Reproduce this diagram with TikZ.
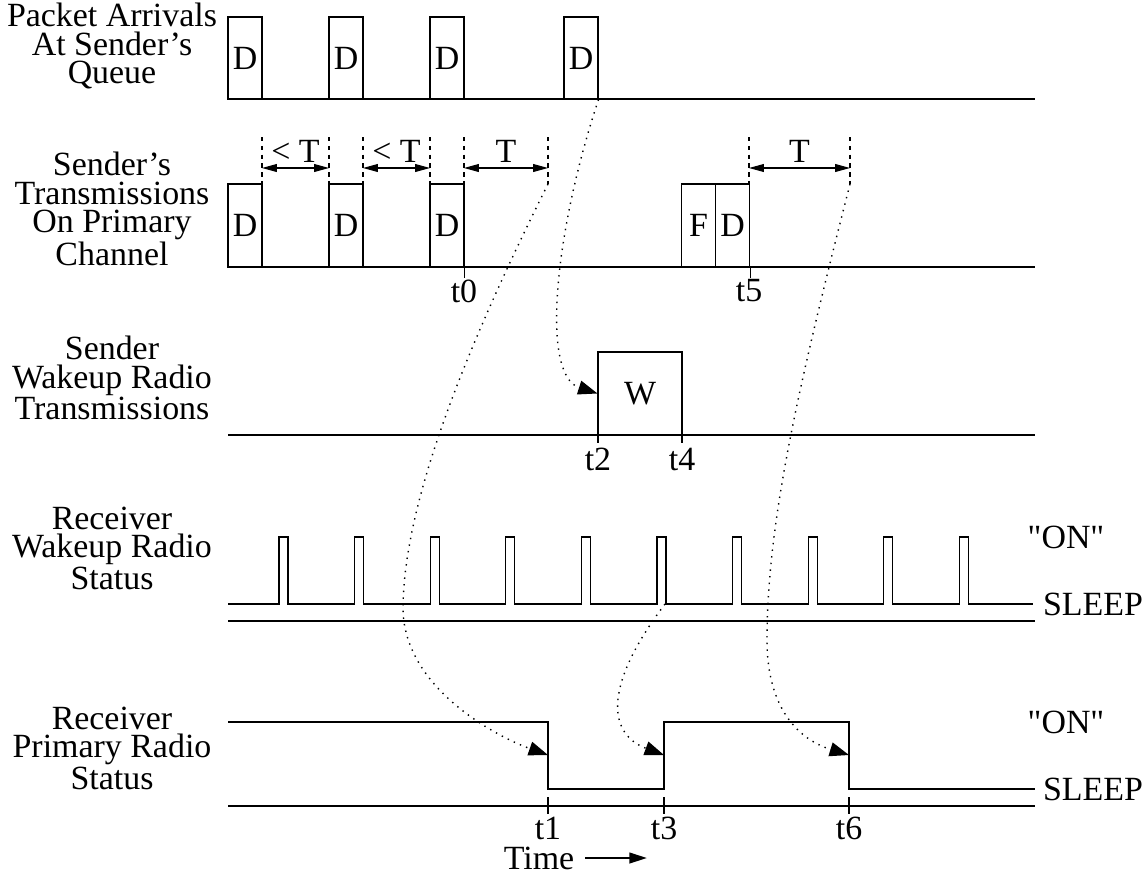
\documentclass[tikz,border=0pt]{standalone}
\usepackage{fontspec}
\setmainfont{Liberation Serif}
\usepackage{tikz}
\usetikzlibrary{arrows.meta}
\tikzstyle{every node}=[font=\fontsize{19.3}{16.2}\selectfont, inner sep=1pt]

\begin{document}
\begin{tikzpicture}[x=0.02cm, y=-0.02cm, line width=0.6pt,
        pkt/.style={draw, inner sep=0pt, minimum width=0.68cm, minimum height=1.66cm},
        rowlabel/.style={align=center},
        guide/.style={dash pattern=on 2.5pt off 2.5pt},
        gap/.style={{Triangle[length=8.5pt,width=4.5pt]}-{Triangle[length=8.5pt,width=4.5pt]}},
        cause/.style={line width=0.8pt, dash pattern=on 0.8pt off 3pt, -{Triangle[length=11pt,width=8pt]}}]
                \useasboundingbox (0,0) rectangle (1148,879);

                \node[rowlabel] (arrq) at (112,46) {Packet Arrivals\\At Sender's\\Queue};
                \node[rowlabel] (sendtx) at (112,209) {Sender's\\Transmissions\\On Primary\\Channel};
                \node[rowlabel] (sendwk) at (112,378) {Sender\\Wakeup Radio\\Transmissions};
                \node[rowlabel] (recvwk) at (112,548) {Receiver\\Wakeup Radio\\Status};
                \node[rowlabel] (recvpri) at (112,748) {Receiver\\Primary Radio\\Status};

                \draw (228,99) -- (1035,99);
                \node[pkt, minimum height=1.64cm] (q1) at (245,58) {D};
                \node[pkt, minimum height=1.64cm] (q2) at (346,58) {D};
                \node[pkt, minimum height=1.64cm] (q3) at (447,58) {D};
                \node[pkt, minimum height=1.64cm] (q4) at (581,58) {D};

                \draw (228,267) -- (1035,267);
                \node[pkt] (s1) at (245,225.5) {D};
                \node[pkt] (s2) at (346,225.5) {D};
                \node[pkt] (s3) at (447,225.5) {D};
                \node[pkt] (f1) at (698.5,225.5) {F};
                \node[pkt] (s4) at (732.5,225.5) {D};
                \foreach \x in {262,329,363,430,464,548,749,850}
                        \draw[guide] (\x,137) -- (\x,184);
                \coordinate (e3) at (548,184);
                \coordinate (e6) at (850,184);
                \draw[gap] (262,168) -- node[above=2pt] (lt1) {< T} (329,168);
                \draw[gap] (363,168) -- node[above=2pt] (lt2) {< T} (430,168);
                \draw[gap] (464,168) -- node[above=2pt] (tt1) {T} (548,168);
                \draw[gap] (749,168) -- node[above=2pt] (tt2) {T} (850,168);
                \draw (s3.south east) -- ++(0,10);
                \draw (s4.south east) -- ++(0,10);
                \node (t0) at (464,291) {t0};
                \node (t5) at (749,291) {t5};

                \draw (228,435) -- (1035,435);
                \node[pkt, minimum width=1.68cm] (w) at (640,393.5) {W};
                \draw (598,428) -- (598,443);
                \draw (682,428) -- (682,443);
                \node (t2) at (598,459) {t2};
                \node (t4) at (682,459) {t4};

                \draw (228,604) \foreach \i in {0,...,9} { -- ({279+75.6*\i},604) -- ++(0,-67) -- ++(9,0) -- ++(0,67) } -- (1033,604);
                \draw (228,621) -- (1035,621);
                \coordinate (w6) at (665,604);
                \node (on1) at (1066,537) {\textquotedbl ON\textquotedbl};
                \node (sl1) at (1093,604) {SLEEP};

                \draw (228,722) -- (548,722) -- (548,789) -- (664,789) -- (664,722) -- (849,722) -- (849,789) -- (1035,789);
                \draw[line width=1.2pt] (1017,789) -- (1035,789);
                \draw (228,806) -- (1035,806);
                \foreach \x in {548,664,849}
                        \draw (\x,797) -- (\x,814);
                \coordinate (r1) at (548,755);
                \coordinate (r3) at (664,755);
                \coordinate (r6) at (849,755);
                \node (on2) at (1066,722) {\textquotedbl ON\textquotedbl};
                \node (sl2) at (1093,789) {SLEEP};
                \node (t1) at (548,828) {t1};
                \node (t3) at (664,828) {t3};
                \node (t6) at (849,828) {t6};

                \node (time) at (539,858) {Time};
                \coordinate (tend) at (647,858);
                \draw[line width=1.3pt, -{Triangle[length=10pt,width=6pt]}] ([xshift=5pt]time.east) -- (tend);

                \draw[cause] (q4.south east) .. controls (555,230) and (540,375) .. (w.west);
                \draw[cause] (e3) .. controls (470,340) and (403,500) .. (403,610) .. controls (405,690) and (500,738) .. (r1);
                \draw[cause] (w6) .. controls (600,690) and (610,735) .. (r3);
                \draw[cause] (e6) .. controls (800,380) and (767,520) .. (767,640) .. controls (767,710) and (800,740) .. (r6);
            \end{tikzpicture}
\end{document}
